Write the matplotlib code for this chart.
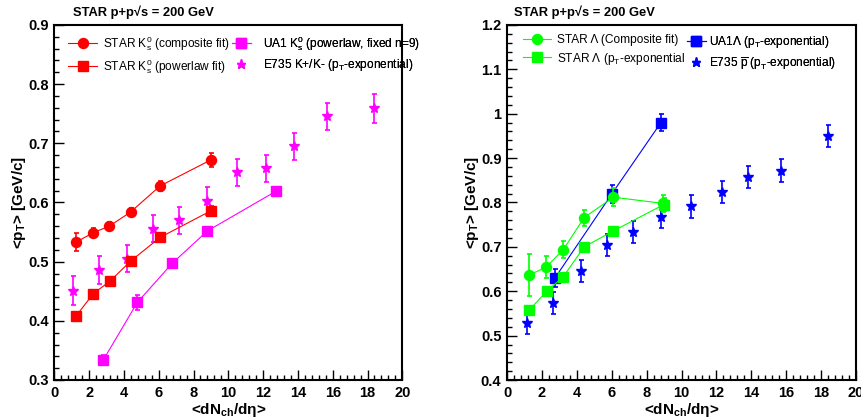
import matplotlib
matplotlib.use("Agg")
import matplotlib.pyplot as plt
from matplotlib.ticker import MultipleLocator
from matplotlib.lines import Line2D

plt.rcParams['font.family'] = ['Liberation Sans', 'DejaVu Sans']
plt.rcParams['mathtext.fontset'] = 'custom'
plt.rcParams['mathtext.rm'] = 'Liberation Sans'
plt.rcParams['mathtext.it'] = 'Liberation Sans:italic'
plt.rcParams['mathtext.bf'] = 'Liberation Sans:bold'

# ---- K0s panel ----
k_comp_x = [1.25, 2.24, 3.16, 4.39, 6.08, 9.0]
k_comp_y = [0.533, 0.549, 0.560, 0.584, 0.628, 0.672]
k_comp_e = [0.015, 0.008, 0.007, 0.007, 0.008, 0.012]

k_pow_x = [1.25, 2.24, 3.2, 4.39, 6.08, 9.0]
k_pow_y = [0.408, 0.446, 0.467, 0.501, 0.541, 0.586]
k_pow_e = [0.004, 0.004, 0.004, 0.005, 0.006, 0.008]

ua1_k_x = [2.82, 4.77, 6.77, 8.8, 12.74]
ua1_k_y = [0.334, 0.431, 0.497, 0.552, 0.619]
ua1_k_e = [0.008, 0.012, 0.006, 0.006, 0.006]

e735_k_x = [1.06, 2.55, 4.16, 5.69, 7.19, 8.8, 10.48, 12.15, 13.78, 15.69, 18.38]
e735_k_y = [0.451, 0.486, 0.505, 0.556, 0.570, 0.603, 0.651, 0.658, 0.695, 0.746, 0.759]
e735_k_e = [0.024, 0.023, 0.023, 0.023, 0.023, 0.024, 0.023, 0.023, 0.023, 0.023, 0.024]

# ---- Lambda panel ----
l_comp_x = [1.28, 2.24, 3.23, 4.42, 6.1, 8.93]
l_comp_y = [0.637, 0.654, 0.694, 0.766, 0.812, 0.798]
l_comp_e = [0.048, 0.025, 0.020, 0.018, 0.020, 0.020]

l_exp_x = [1.28, 2.28, 3.23, 4.42, 6.1, 8.97]
l_exp_y = [0.558, 0.600, 0.633, 0.700, 0.736, 0.795]
l_exp_e = [0.005, 0.005, 0.005, 0.005, 0.005, 0.015]

ua1_l_x = [2.75, 6.0, 8.82]
ua1_l_y = [0.630, 0.819, 0.980]
ua1_l_e = [0.020, 0.020, 0.020]

e735_p_x = [1.13, 2.66, 4.23, 5.72, 7.21, 8.82, 10.54, 12.32, 13.81, 15.70, 18.38]
e735_p_y = [0.529, 0.573, 0.646, 0.704, 0.733, 0.768, 0.791, 0.823, 0.857, 0.872, 0.950]
e735_p_e = [0.025, 0.025, 0.025, 0.025, 0.025, 0.025, 0.025, 0.025, 0.025, 0.025, 0.025]

title = 'STAR p+p√s = 200 GeV'
xlabel = r'<dN$_{\mathbf{ch}}$/dη>'
ylabel = r'<p$_{\mathbf{T}}$> [GeV/c]'

fig = plt.figure(figsize=(8.61, 4.18), dpi=100)
axL = fig.add_axes([54.3 / 861, 38 / 418, 348 / 861, 355 / 418])
axR = fig.add_axes([507 / 861, 38 / 418, 349 / 861, 355 / 418])

MS = 7.2
STAR_MS = 7.8
LW = 0.8


def series(ax, x, y, e, color, marker, ms, line=True, z=3):
    ax.errorbar(x, y, yerr=e, color=color, marker=marker, ms=ms,
                mec=color, mfc=color, lw=LW if line else 0,
                ls='-' if line else 'none', elinewidth=1.2, capsize=1.8,
                capthick=1.2, zorder=z)


def style(ax, ymin, ymax):
    ax.set_xlim(0, 20)
    ax.set_ylim(ymin, ymax)
    ax.xaxis.set_major_locator(MultipleLocator(2))
    ax.xaxis.set_minor_locator(MultipleLocator(0.4))
    ax.yaxis.set_major_locator(MultipleLocator(0.1))
    ax.yaxis.set_minor_locator(MultipleLocator(0.02))
    ax.tick_params(which='both', direction='in', top=False, right=False,
                   width=1.0, labelsize=10.5)
    ax.tick_params(which='major', length=7, pad=4)
    ax.tick_params(which='minor', length=3.6)
    for sp in ax.spines.values():
        sp.set_linewidth(1.5)
    ax.set_xlabel(xlabel, fontsize=11, fontweight='bold', labelpad=1)
    ax.set_ylabel(ylabel, fontsize=11, fontweight='bold', labelpad=0)


# Left: K0s
series(axL, e735_k_x, e735_k_y, e735_k_e, '#ff00ff', '*', STAR_MS, line=False, z=2)
series(axL, ua1_k_x, ua1_k_y, ua1_k_e, '#ff00ff', 's', MS, z=3)
series(axL, k_pow_x, k_pow_y, k_pow_e, '#ff0000', 's', MS, z=4)
series(axL, k_comp_x, k_comp_y, k_comp_e, '#ff0000', 'o', MS, z=5)
style(axL, 0.3, 0.9)
axL.yaxis.set_major_formatter(plt.FuncFormatter(lambda v, p: f'{v:.1f}'))

# Right: Lambda
series(axR, e735_p_x, e735_p_y, e735_p_e, '#0000ff', '*', STAR_MS, line=False, z=2)
series(axR, ua1_l_x, ua1_l_y, ua1_l_e, '#0000ff', 's', MS, z=3)
series(axR, l_exp_x, l_exp_y, l_exp_e, '#00ff00', 's', MS, z=4)
series(axR, l_comp_x, l_comp_y, l_comp_e, '#00ff00', 'o', MS, z=5)
style(axR, 0.4, 1.2)
axR.yaxis.set_major_formatter(plt.FuncFormatter(
    lambda v, p: '1' if abs(v - 1) < 1e-9 else f'{v:.1f}'))

for ax in (axL, axR):
    for lab in ax.get_xticklabels() + ax.get_yticklabels():
        lab.set_fontweight('bold')

fig.text(73 / 861, 1 - 16 / 418, title, fontsize=9.3, fontweight='bold',
         ha='left', va='baseline')
fig.text(514 / 861, 1 - 16 / 418, title, fontsize=9.3, fontweight='bold',
         ha='left', va='baseline')


def handle(color, marker, ms, line=True):
    return Line2D([], [], color=color, marker=marker, ms=ms, mec=color,
                  mfc=color, lw=LW if line else 0, ls='-' if line else 'none')


def column(ax, handles, labels, anchor, hlen, tpad):
    leg = ax.legend(handles, labels, loc='upper left', bbox_to_anchor=anchor,
                    frameon=False, fontsize=8.6, handlelength=hlen,
                    handletextpad=tpad, labelspacing=0.4, borderpad=0,
                    borderaxespad=0)
    ax.add_artist(leg)


column(axL, [handle('#ff0000', 'o', MS), handle('#ff0000', 's', MS)],
       [r'STAR K$^{0}_{\mathrm{s}}$ (composite fit)',
        r'STAR K$^{0}_{\mathrm{s}}$ (powerlaw fit)'],
       (0.04, 0.975), 2.4, 0.5)
column(axL, [handle('#ff00ff', 's', MS), handle('#ff00ff', '*', 6.5, line=False)],
       [r'UA1 K$^{0}_{\mathrm{s}}$ (powerlaw, fixed n=9)',
        r'E735 K+/K- (p$_{\mathrm{T}}$-exponential)'],
       (0.51, 0.975), 1.6, 1.0)

column(axR, [handle('#00ff00', 'o', MS), handle('#00ff00', 's', MS)],
       [r'STAR Λ (Composite fit)', r'STAR Λ (p$_{\mathrm{T}}$-exponential'],
       (0.045, 0.975), 2.4, 0.5)
column(axR, [handle('#0000ff', 's', MS), handle('#0000ff', '*', 6.5, line=False)],
       [r'UA1Λ (p$_{\mathrm{T}}$-exponential)',
        r'E735 $\overline{\mathrm{p}}$ (p$_{\mathrm{T}}$-exponential)'],
       (0.515, 0.975), 1.6, 0.3)

fig.savefig('out.png', dpi=100)
